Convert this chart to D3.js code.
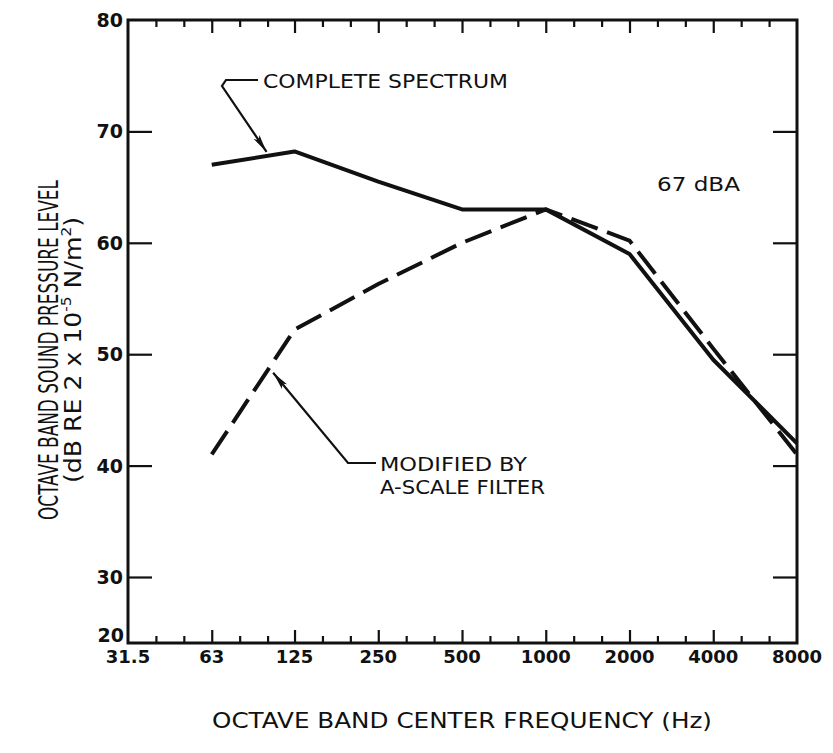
<!DOCTYPE html>
<html lang="en">
  <head>
    <meta charset="utf-8">
    <title>Octave band spectrum</title>
    <script src="https://d3js.org/d3.v7.js"></script>
    <style>
      body { margin: 0; background: #fff; }
      text { fill: #111; }
    </style>
  </head>

  <body>

  <script>

// Data

  var freqLabels = ["31.5", "63", "125", "250", "500", "1000", "2000", "4000", "8000"];
  var bandFreqs = [63, 125, 250, 500, 1000, 2000, 4000, 8000];
  var completeSpectrum = [67, 68.2, 65.5, 63, 63, 59, 49.5, 42];
  var aScaleFiltered = [41, 52.2, 56.3, 60, 63, 60.2, 50.5, 41];
  var yTicks = [20, 30, 40, 50, 60, 70, 80];

  var w = 833;
  var h = 753;
  var margin = {top: 20, right: 36, bottom: 110, left: 128};
  var plotRight = w - margin.right;
  var plotBottom = h - margin.bottom;

  var svg = d3.select("body")
    .append("svg")
      .attr("width", w)
      .attr("height", h);

  var xScale = d3.scaleLog()
      .base(2)
      .domain([31.5, 8000])
      .range([margin.left, plotRight]);

  // the 20-30 step at the foot of the axis is drawn shorter than the others
  var yScale = d3.scaleLinear()
      .domain([20, 30, 80])
      .range([plotBottom, plotBottom - 66, margin.top]);

// third-octave ticks: two minor ticks between each octave
  var majorTicks = freqLabels.map(Number);
  var minorTicks = [];
  majorTicks.slice(0, -1).forEach(f => {
    minorTicks.push(f * Math.pow(2, 1 / 3), f * Math.pow(2, 2 / 3));
  });

  var bottomAxis = d3.axisTop(xScale)
      .tickValues(majorTicks.slice(1, -1))
      .tickSize(13)
      .tickFormat("");
  var bottomMinor = d3.axisTop(xScale)
      .tickValues(minorTicks)
      .tickSize(7)
      .tickFormat("");
  var topAxis = d3.axisBottom(xScale)
      .tickValues(majorTicks.slice(1, -1))
      .tickSize(13)
      .tickFormat("");
  var topMinor = d3.axisBottom(xScale)
      .tickValues(minorTicks)
      .tickSize(7)
      .tickFormat("");
  var leftAxis = d3.axisRight(yScale)
      .tickValues(yTicks.slice(1, -1))
      .tickSize(24)
      .tickFormat("");
  var rightAxis = d3.axisLeft(yScale)
      .tickValues(yTicks.slice(1, -1))
      .tickSize(24)
      .tickFormat("");

  [[bottomAxis, 0, plotBottom], [bottomMinor, 0, plotBottom],
   [topAxis, 0, margin.top], [topMinor, 0, margin.top],
   [leftAxis, margin.left, 0], [rightAxis, plotRight, 0]].forEach(a => {
    var g = svg.append("g")
        .attr("transform", `translate(${a[1]}, ${a[2]})`)
        .call(a[0]);
    g.select(".domain").remove();
    g.selectAll("line")
        .attr("stroke", "#111")
        .attr("stroke-width", 2.2);
  });

// frame
  svg.append("rect")
      .attr("x", margin.left)
      .attr("y", margin.top)
      .attr("width", plotRight - margin.left)
      .attr("height", plotBottom - margin.top)
      .attr("fill", "none")
      .attr("stroke", "#111")
      .attr("stroke-width", 3);

// tick labels
  var labelFont = "'DejaVu Sans', sans-serif";

  svg.append("g")
    .selectAll("text")
    .data(yTicks)
    .enter().append("text")
      .attr("x", d => d == 20 ? margin.left - 4 : margin.left - 5)
      .attr("y", d => d == 20 ? yScale(d) - 1 : yScale(d) + 7)
      .attr("text-anchor", "end")
      .attr("font-family", labelFont)
      .attr("font-weight", "bold")
      .attr("font-size", 19)
      .text(d => d);

  svg.append("g")
    .selectAll("text")
    .data(freqLabels)
    .enter().append("text")
      .attr("x", d => xScale(+d))
      .attr("y", plotBottom + 20)
      .attr("text-anchor", "middle")
      .attr("font-family", labelFont)
      .attr("font-weight", "bold")
      .attr("font-size", 18)
      .text(d => d);

// axis titles
  var titleFont = "'Liberation Sans Narrow', 'DejaVu Sans Condensed', sans-serif";

  svg.append("text")
      .attr("x", 212)
      .attr("y", 728)
      .attr("textLength", 500)
      .attr("lengthAdjust", "spacingAndGlyphs")
      .attr("font-family", labelFont)
      .attr("font-size", 21)
      .text("OCTAVE BAND CENTER FREQUENCY (Hz)");

  var yMid = 350;

  svg.append("text")
      .attr("transform", `translate(58, ${yMid}) rotate(-90)`)
      .attr("x", -170)
      .attr("textLength", 340)
      .attr("lengthAdjust", "spacingAndGlyphs")
      .attr("font-family", titleFont)
      .attr("font-size", 27)
      .text("OCTAVE BAND SOUND PRESSURE LEVEL");

  var sub = svg.append("text")
      .attr("transform", `translate(81, ${yMid}) rotate(-90)`)
      .attr("x", -133)
      .attr("textLength", 266)
      .attr("lengthAdjust", "spacingAndGlyphs")
      .attr("font-family", titleFont)
      .attr("font-size", 23);
  sub.append("tspan").text("(dB RE 2 x 10");
  sub.append("tspan").attr("dy", -10).attr("font-size", 14).text("-5");
  sub.append("tspan").attr("dy", 10).text(" N/m");
  sub.append("tspan").attr("dy", -10).attr("font-size", 14).text("2");
  sub.append("tspan").attr("dy", 10).text(")");

// the two spectra

  var line = d3.line()
      .x(d => xScale(d[0]))
      .y(d => yScale(d[1]));

  svg.append("path")
      .datum(d3.zip(bandFreqs, completeSpectrum))
      .attr("d", line)
      .attr("fill", "none")
      .attr("stroke", "#111")
      .attr("stroke-width", 4)
      .attr("stroke-linejoin", "round");

  svg.append("path")
      .datum(d3.zip(bandFreqs, aScaleFiltered))
      .attr("d", line)
      .attr("fill", "none")
      .attr("stroke", "#111")
      .attr("stroke-width", 4)
      .attr("stroke-dasharray", "28,10");

// annotations

  svg.append("defs").append("marker")
      .attr("id", "head")
      .attr("viewBox", "0 0 18 8")
      .attr("refX", 18)
      .attr("refY", 4)
      .attr("markerWidth", 18)
      .attr("markerHeight", 8)
      .attr("markerUnits", "userSpaceOnUse")
      .attr("orient", "auto")
    .append("path")
      .attr("d", "M0,0.5 L18,4 L0,7.5 L4,4 Z")
      .attr("fill", "#111");

  function leader(points) {
    svg.append("path")
        .attr("d", d3.line()(points))
        .attr("fill", "none")
        .attr("stroke", "#111")
        .attr("stroke-width", 2.2)
        .attr("marker-end", "url(#head)");
  }

  function note(x, y, lines, widths) {
    var t = svg.append("text")
        .attr("font-family", labelFont)
        .attr("font-size", 20);
    lines.forEach((s, i) => {
      t.append("tspan")
          .attr("x", x)
          .attr("y", y + i * 23)
          .attr("textLength", widths[i])
          .attr("lengthAdjust", "spacingAndGlyphs")
          .text(s);
    });
  }

  // pointing at the complete spectrum near 100 Hz
  var cx = xScale(100), cy = yScale(67.8);
  leader([[258, 80], [226, 80], [222, 86], [cx - 1, cy - 4]]);
  note(263, 88, ["COMPLETE SPECTRUM"], [245]);

  // pointing at the A-scale curve near 100 Hz
  var ax = xScale(103), ay = yScale(48.6);
  leader([[376, 463], [348, 463], [ax + 2, ay + 3]]);
  note(380, 471, ["MODIFIED BY", "A-SCALE FILTER"], [147, 165]);

  note(657, 191, ["67 dBA"], [83]);

    </script>

  </body>

</html>
